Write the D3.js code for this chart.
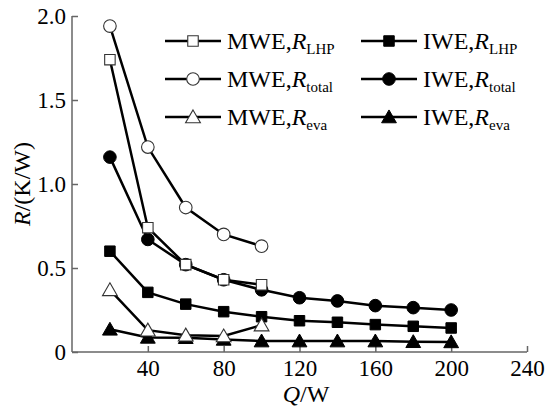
<!DOCTYPE html>
<html>
<head>
<meta charset="utf-8">
<script src="https://cdn.jsdelivr.net/npm/d3@7"></script>
<style>
  body { margin: 0; background: #fff; }
</style>
</head>
<body>
<svg id="chart" width="546" height="410" font-family="Liberation Serif"></svg>
<script>
const qMwe = [20, 40, 60, 80, 100];
const qIwe = [20, 40, 60, 80, 100, 120, 140, 160, 180, 200];

const mweLhp = [1.74, 0.74, 0.52, 0.43, 0.40];
const mweTotal = [1.94, 1.22, 0.86, 0.70, 0.63];
const mweEva = [0.37, 0.13, 0.10, 0.095, 0.16];
const iweLhp = [0.60, 0.355, 0.285, 0.24, 0.21, 0.186, 0.177, 0.163, 0.153, 0.143];
const iweTotal = [1.16, 0.67, 0.52, 0.43, 0.37, 0.323, 0.304, 0.276, 0.264, 0.25];
const iweEva = [0.135, 0.087, 0.085, 0.075, 0.065, 0.065, 0.065, 0.065, 0.061, 0.06];

const xTicks = [40, 80, 120, 160, 200, 240];
const yTicks = [0, 0.5, 1.0, 1.5, 2.0];

const series = [
    { name: 'MWE', sub: 'LHP', xs: qMwe, ys: mweLhp, shape: 'square', open: true },
    { name: 'IWE', sub: 'LHP', xs: qIwe, ys: iweLhp, shape: 'square', open: false },
    { name: 'MWE', sub: 'total', xs: qMwe, ys: mweTotal, shape: 'circle', open: true },
    { name: 'IWE', sub: 'total', xs: qIwe, ys: iweTotal, shape: 'circle', open: false },
    { name: 'MWE', sub: 'eva', xs: qMwe, ys: mweEva, shape: 'triangle', open: true },
    { name: 'IWE', sub: 'eva', xs: qIwe, ys: iweEva, shape: 'triangle', open: false },
];

const FONT = 'Liberation Serif';
const svg = d3.select('#chart');
const x = d3.scaleLinear().domain([0, 240]).range([72, 527]);
const y = d3.scaleLinear().domain([0, 2]).range([352, 16]);

const axisColor = '#666';

// axes, ticks point inward
const gx = svg.append('g').attr('transform', 'translate(0,352)')
    .call(d3.axisBottom(x).tickValues(xTicks).tickSizeInner(-6).tickSizeOuter(0).tickPadding(8));
const gy = svg.append('g').attr('transform', 'translate(72,0)')
    .call(d3.axisLeft(y).tickValues(yTicks).tickSizeInner(-6).tickSizeOuter(0).tickPadding(6)
        .tickFormat(d => d === 0 ? '0' : d3.format('.1f')(d)));
[gx, gy].forEach(g => {
    g.attr('font-family', FONT).attr('font-size', 23);
    g.select('.domain').attr('stroke', axisColor).attr('stroke-width', 1.5);
    g.selectAll('.tick line').attr('stroke', axisColor).attr('stroke-width', 1.5);
    g.selectAll('.tick text').attr('font-family', FONT).attr('fill', '#000');
});
gx.select('.domain').attr('d', `M${x(0)},0H${x(240)}`);
gy.select('.domain').attr('d', `M0,${y(0)}V${y(2)}`);

// axis titles
const xt = svg.append('text').attr('x', 306).attr('y', 402).attr('text-anchor', 'middle')
    .attr('font-family', FONT).attr('font-size', 24);
xt.append('tspan').attr('font-style', 'italic').text('Q');
xt.append('tspan').attr('font-family', FONT).text('/W');

const yt = svg.append('text').attr('transform', `translate(30,${y(1)}) rotate(-90)`).attr('text-anchor', 'middle')
    .attr('font-family', FONT).attr('font-size', 24);
yt.append('tspan').attr('font-style', 'italic').text('R');
yt.append('tspan').attr('font-family', FONT).text('/(K/W)');

const symbolFor = (shape) => {
    if (shape === 'square') return d3.symbol().type(d3.symbolSquare).size(110)();
    if (shape === 'circle') return d3.symbol().type(d3.symbolCircle).size(125)();
    return d3.symbol().type(d3.symbolTriangle).size(95)();
};

const line = d3.line().x(d => x(d[0])).y(d => y(d[1]));

// lines
series.forEach(s => {
    svg.append('path')
        .datum(s.xs.map((q, i) => [q, s.ys[i]]))
        .attr('d', line)
        .attr('fill', 'none')
        .attr('stroke', '#000')
        .attr('stroke-width', 2.5);
});

// markers (open on top of filled at shared points)
const drawOrder = [series[1], series[3], series[5], series[0], series[2], series[4]];
drawOrder.forEach(s => {
    svg.append('g').selectAll('path')
        .data(s.xs.map((q, i) => [q, s.ys[i]]))
        .enter()
        .append('path')
        .attr('d', symbolFor(s.shape))
        .attr('transform', d => `translate(${x(d[0])},${y(d[1]) + (s.shape === 'triangle' ? 1.5 : 0)})`)
        .attr('fill', s.open ? '#fff' : '#000')
        .attr('stroke', s.open ? '#333' : '#000')
        .attr('stroke-width', s.open ? 1.1 : 1);
});

// legend
const legendRows = [41, 79, 117];
const legendCols = [165, 361];
series.forEach((s, i) => {
    const lx = legendCols[i % 2];
    const ly = legendRows[Math.floor(i / 2)];
    const g = svg.append('g');
    g.append('line').attr('x1', lx).attr('x2', lx + 56).attr('y1', ly).attr('y2', ly)
        .attr('stroke', '#000').attr('stroke-width', 2.5);
    g.append('path').attr('d', symbolFor(s.shape))
        .attr('transform', `translate(${lx + 28},${ly + (s.shape === 'triangle' ? 1.5 : 0)})`)
        .attr('fill', s.open ? '#fff' : '#000')
        .attr('stroke', s.open ? '#333' : '#000')
        .attr('stroke-width', s.open ? 1.1 : 1);
    const t = g.append('text').attr('x', lx + 62).attr('y', ly + 8)
        .attr('font-family', FONT).attr('font-size', 24);
    t.append('tspan').text(s.name + ',');
    t.append('tspan').attr('font-style', 'italic').text('R');
    t.append('tspan').attr('font-size', 15).attr('dy', 5).text(s.sub);
});
</script>
</body>
</html>
